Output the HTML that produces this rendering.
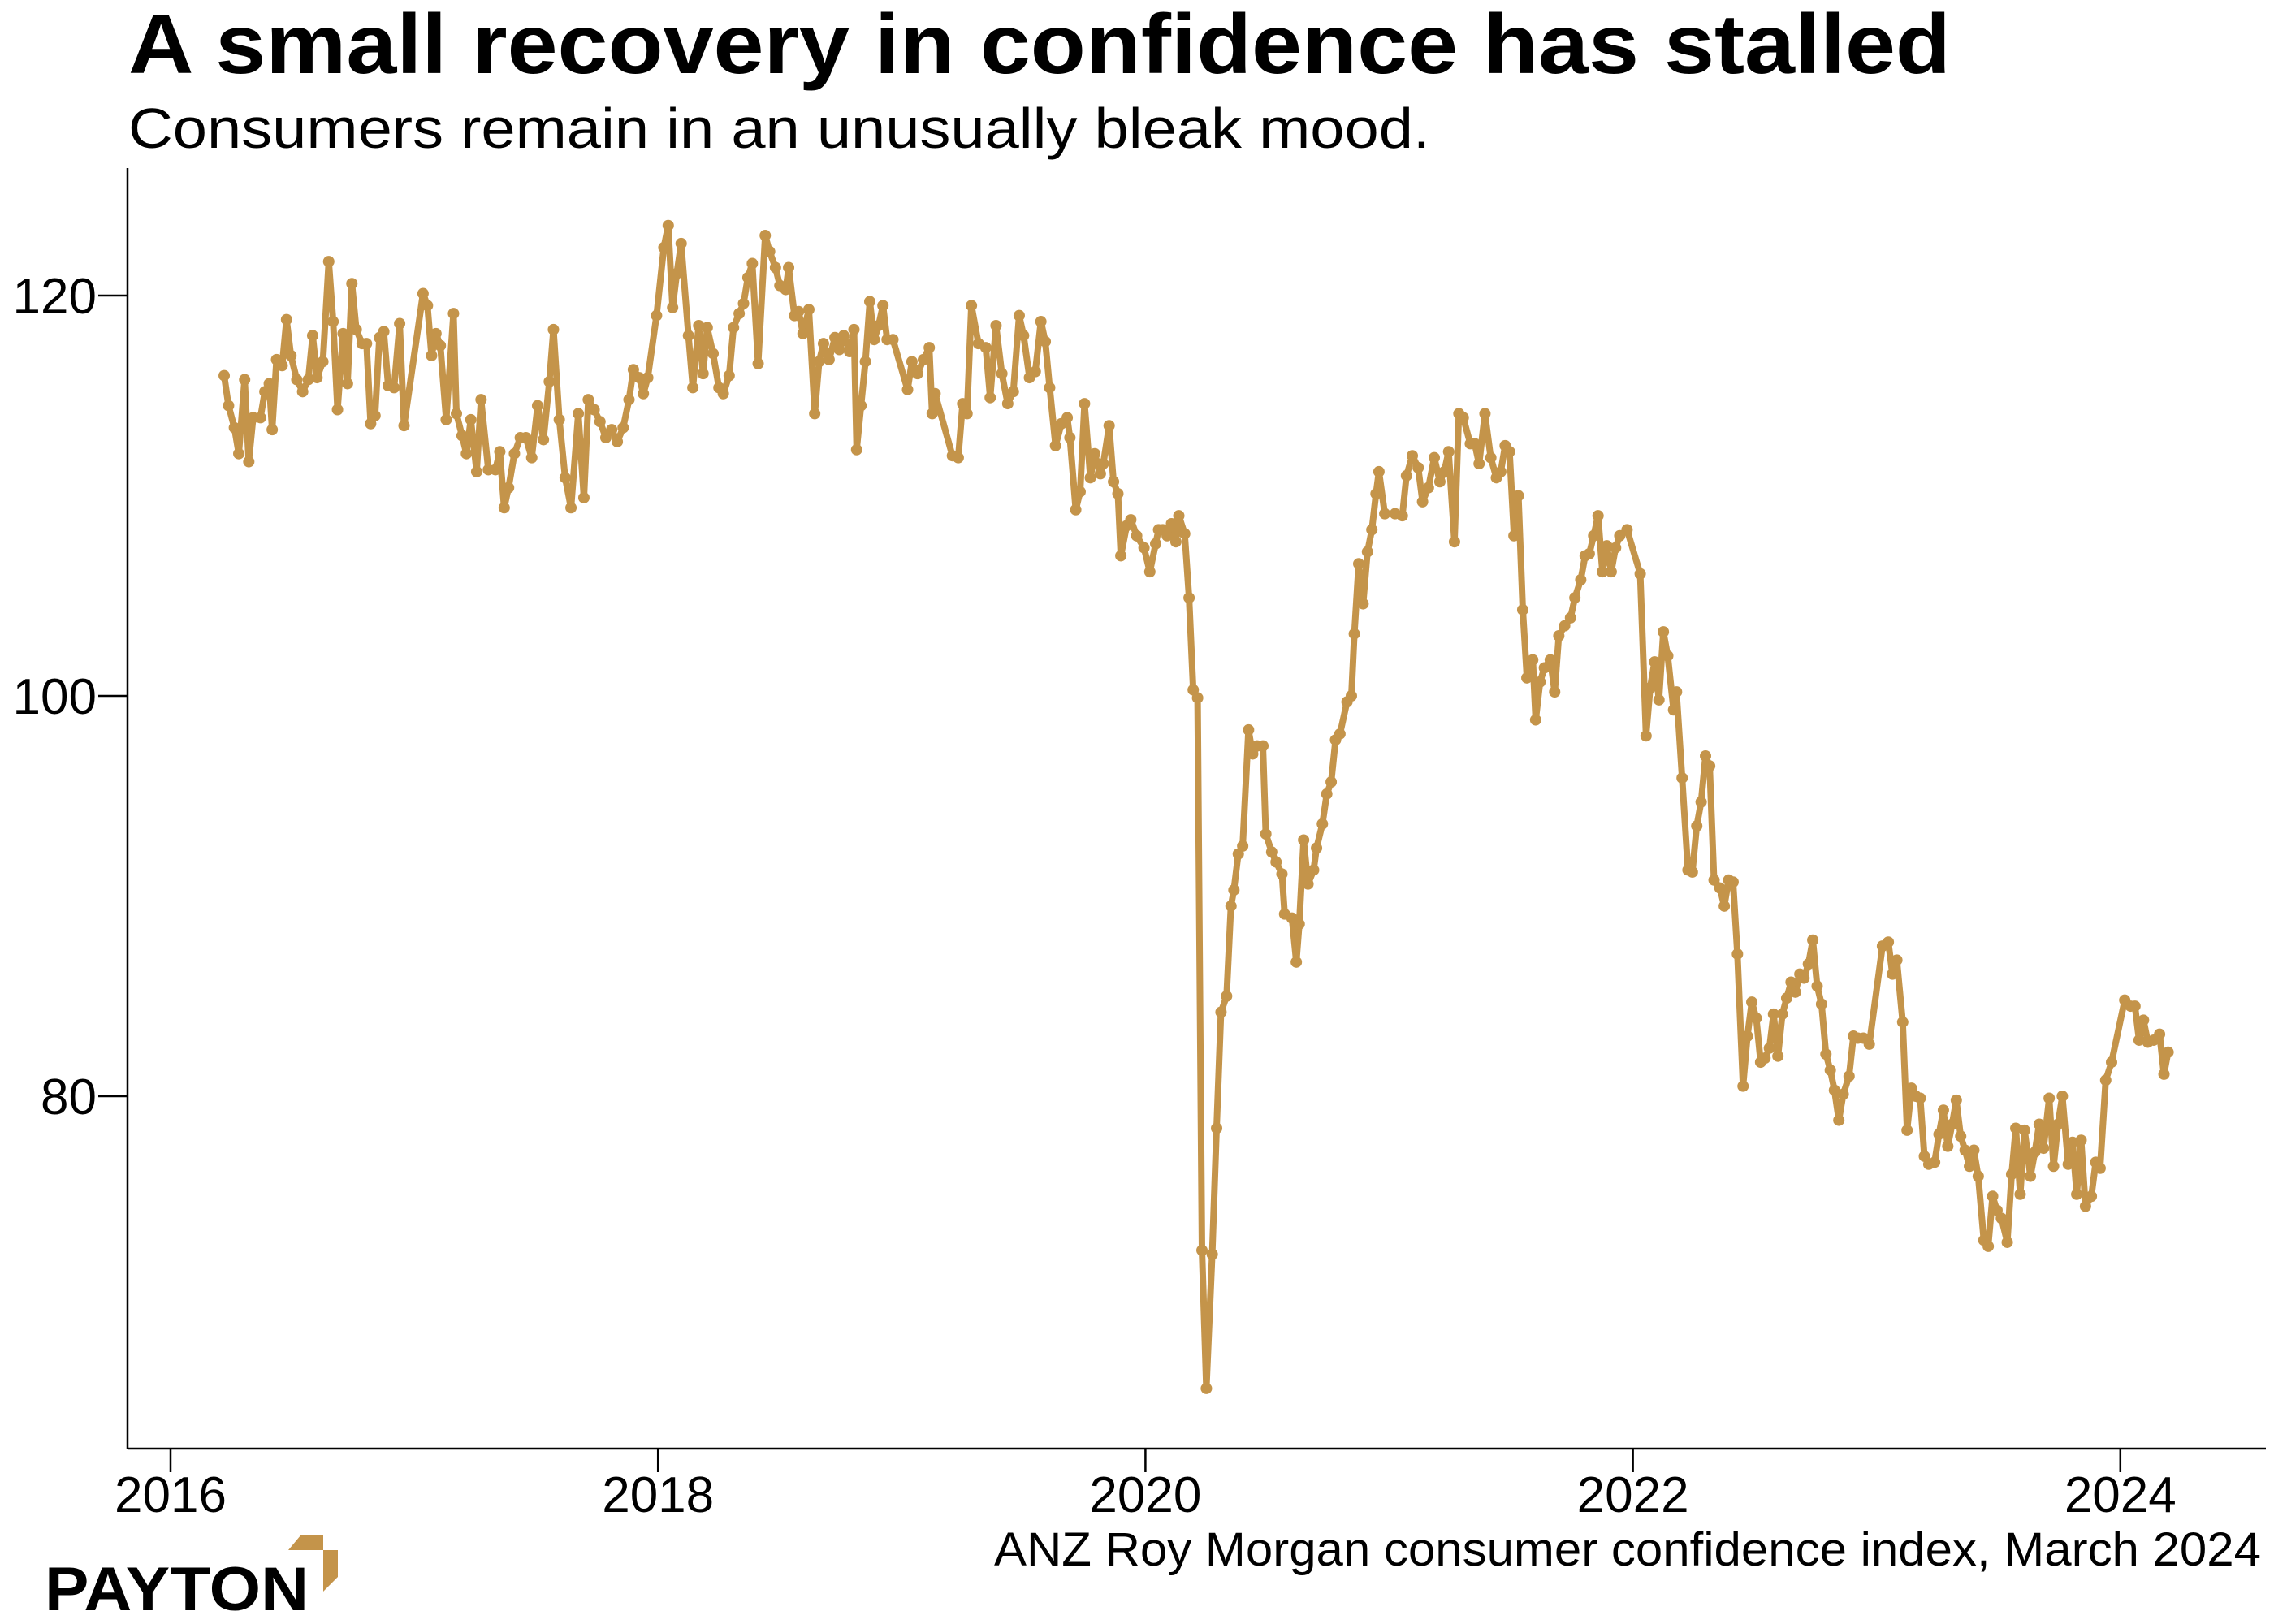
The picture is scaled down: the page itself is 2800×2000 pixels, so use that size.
<!DOCTYPE html>
<html><head><meta charset="utf-8"><style>
html,body{margin:0;padding:0;background:#fff;}
svg{display:block;font-family:"Liberation Sans",sans-serif;}
</style></head><body>
<svg id="chart" width="2800" height="2000" viewBox="0 0 2800 2000" xmlns="http://www.w3.org/2000/svg">
<text x="158" y="90" font-size="104" font-weight="bold" textLength="2244" lengthAdjust="spacingAndGlyphs">A small recovery in confidence has stalled</text>
<text x="158" y="182" font-size="70" textLength="1603" lengthAdjust="spacingAndGlyphs">Consumers remain in an unusually bleak mood.</text>
<line x1="157" y1="207" x2="157" y2="1784" stroke="#000" stroke-width="2.5"/>
<line x1="157" y1="1784" x2="2790" y2="1784" stroke="#000" stroke-width="2.5"/>
<g id="yticks"></g><g id="xticks"></g>
<g id="series"></g>
<text x="2784" y="1928" font-size="58" text-anchor="end" textLength="1560" lengthAdjust="spacingAndGlyphs">ANZ Roy Morgan consumer confidence index, March 2024</text>
<g>
<text x="55" y="1983" font-size="76" font-weight="bold" textLength="325" lengthAdjust="spacingAndGlyphs">PAYTON</text>
<polygon points="370,1891 398,1891 398,1909 416,1909 416,1942 398,1960 398,1909 355,1909" fill="#C4944A"/>
</g>
</svg>
<script>
const yTicks = [80, 100, 120];
const xTicks = [2016, 2018, 2020, 2022, 2024];
const baseYear = 2016;
const yearOffsets = [0.220,0.238,0.262,0.280,0.304,0.321,0.339,0.369,0.387,0.405,0.417,0.435,0.458,0.476,0.494,0.518,0.542,0.565,0.583,0.601,0.625,0.649,0.667,0.685,0.708,0.726,0.744,0.762,0.786,0.804,0.821,0.839,0.857,0.875,0.893,0.917,0.940,0.958,1.036,1.054,1.071,1.089,1.107,1.131,1.161,1.173,1.196,1.214,1.232,1.256,1.274,1.304,1.333,1.351,1.369,1.387,1.411,1.435,1.458,1.482,1.506,1.530,1.554,1.571,1.595,1.619,1.643,1.673,1.696,1.714,1.738,1.762,1.786,1.810,1.833,1.857,1.881,1.899,1.923,1.940,1.958,1.994,2.024,2.042,2.060,2.077,2.095,2.125,2.143,2.167,2.185,2.202,2.226,2.250,2.268,2.292,2.310,2.333,2.351,2.369,2.387,2.411,2.440,2.458,2.482,2.500,2.524,2.536,2.560,2.577,2.595,2.619,2.643,2.661,2.679,2.702,2.726,2.744,2.762,2.786,2.804,2.815,2.833,2.851,2.869,2.887,2.905,2.923,2.940,2.964,3.024,3.042,3.065,3.089,3.113,3.125,3.137,3.208,3.232,3.250,3.268,3.286,3.315,3.345,3.363,3.387,3.411,3.435,3.458,3.482,3.500,3.524,3.548,3.571,3.589,3.607,3.631,3.655,3.679,3.690,3.714,3.732,3.750,3.774,3.792,3.815,3.827,3.851,3.869,3.887,3.899,3.923,3.940,3.964,3.994,4.018,4.042,4.054,4.071,4.089,4.107,4.125,4.137,4.161,4.179,4.196,4.214,4.232,4.250,4.274,4.292,4.310,4.333,4.351,4.363,4.381,4.399,4.423,4.440,4.458,4.482,4.494,4.518,4.536,4.560,4.571,4.601,4.619,4.631,4.649,4.667,4.690,4.702,4.726,4.744,4.762,4.780,4.798,4.827,4.845,4.857,4.875,4.893,4.911,4.929,4.946,4.958,4.982,5.024,5.054,5.071,5.095,5.119,5.137,5.161,5.185,5.208,5.226,5.244,5.268,5.286,5.304,5.333,5.351,5.369,5.393,5.417,5.440,5.458,5.476,5.494,5.512,5.530,5.548,5.565,5.589,5.601,5.619,5.637,5.661,5.679,5.696,5.720,5.744,5.762,5.786,5.804,5.821,5.839,5.857,5.875,5.893,5.911,5.929,5.946,5.976,6.030,6.054,6.071,6.089,6.107,6.125,6.143,6.167,6.179,6.202,6.226,6.244,6.262,6.280,6.298,6.315,6.333,6.357,6.375,6.393,6.411,6.429,6.452,6.470,6.488,6.506,6.524,6.542,6.560,6.577,6.595,6.613,6.631,6.649,6.667,6.685,6.702,6.720,6.738,6.756,6.774,6.792,6.810,6.827,6.845,6.863,6.887,6.905,6.923,6.946,6.970,7.024,7.048,7.065,7.083,7.107,7.125,7.143,7.161,7.179,7.196,7.214,7.238,7.256,7.274,7.292,7.310,7.327,7.345,7.363,7.381,7.399,7.417,7.440,7.458,7.476,7.494,7.512,7.536,7.554,7.571,7.589,7.607,7.631,7.649,7.667,7.685,7.708,7.726,7.744,7.762,7.786,7.804,7.821,7.839,7.857,7.881,7.899,7.917,7.940,7.964,8.018,8.042,8.060,8.077,8.095,8.113,8.137,8.161,8.179,8.196];
const confidence = [116.0,114.5,113.4,112.1,115.8,111.7,113.9,113.9,115.2,115.6,113.3,116.8,116.5,118.8,117.0,115.8,115.2,115.8,118.0,115.9,116.7,121.7,118.7,114.3,118.1,115.6,120.6,118.3,117.6,117.6,113.6,114.0,117.9,118.2,115.5,115.4,118.6,113.5,120.1,119.5,117.0,118.1,117.5,113.8,119.1,114.1,113.0,112.1,113.8,111.2,114.8,111.3,111.3,112.2,109.4,110.4,112.1,112.9,112.9,111.9,114.5,112.8,115.7,118.3,113.8,110.9,109.4,114.1,109.9,114.8,114.3,113.7,112.9,113.3,112.7,113.4,114.8,116.3,115.9,115.1,115.9,119.0,122.4,123.5,119.4,121.1,122.6,118.0,115.4,118.5,116.1,118.4,117.1,115.4,115.1,116.0,118.4,119.1,119.6,120.9,121.6,116.6,123.0,122.2,121.4,120.5,120.3,121.4,119.0,119.2,118.1,119.3,114.1,116.7,117.6,116.8,117.9,117.3,118.0,117.2,118.3,112.3,114.5,116.7,119.7,117.8,118.5,119.5,117.8,117.8,115.3,116.7,116.1,116.8,117.4,114.1,115.1,112.0,111.9,114.6,114.1,119.5,117.6,117.4,114.9,118.5,116.1,114.6,115.2,119.0,118.0,115.9,116.2,118.7,117.7,115.4,112.5,113.6,113.9,112.9,109.3,110.2,114.6,110.9,112.1,111.1,111.6,113.5,110.7,110.1,107.0,108.5,108.8,108.0,107.4,106.2,107.6,108.3,108.3,108.0,108.6,107.7,109.0,108.1,104.9,100.3,99.9,72.3,65.4,72.1,78.4,84.2,85.0,89.5,90.3,92.1,92.5,98.3,97.1,97.5,97.5,93.1,92.2,91.7,91.1,89.1,88.9,86.7,88.6,92.8,90.6,91.3,92.4,93.6,95.1,95.7,97.8,98.1,99.7,100.0,103.1,106.6,104.6,107.2,108.3,110.1,111.2,109.1,109.1,109.0,111.0,112.0,111.4,109.7,110.4,111.9,110.7,111.2,112.2,107.7,114.1,113.9,112.6,112.6,111.6,114.1,111.9,110.9,111.2,112.5,112.2,108.0,110.0,104.3,100.9,101.8,98.8,100.7,101.4,101.8,100.2,103.0,103.5,103.9,104.9,105.8,107.0,107.1,108.0,109.0,106.2,107.5,106.2,107.4,108.0,108.3,106.1,98.0,100.4,101.7,99.8,103.2,102.0,99.3,100.2,95.9,91.3,91.2,93.5,94.7,97.0,96.5,90.8,90.4,89.5,90.8,90.7,87.1,80.5,83.0,84.7,83.9,81.7,81.9,82.4,84.1,82.0,84.1,84.9,85.7,85.2,86.1,85.9,86.6,87.8,85.5,84.6,82.1,81.3,80.3,78.8,80.1,81.0,83.0,82.9,82.9,82.6,87.5,87.7,86.1,86.8,83.7,78.3,80.4,80.0,79.9,77.0,76.6,76.7,78.1,79.3,77.5,78.6,79.8,78.0,77.3,76.5,77.3,76.0,72.8,72.5,75.0,74.3,73.9,72.7,76.1,78.4,75.1,78.3,76.0,77.2,78.6,77.4,79.9,76.5,78.6,80.0,76.6,77.7,75.1,77.8,74.5,75.0,76.7,76.4,80.8,81.7,84.8,84.5,84.5,82.8,83.8,82.7,82.8,83.1,81.1,82.2];

const NS = "http://www.w3.org/2000/svg";
function xScale(year){ return 210 + (year - 2016) * 300.1; }
function yScale(v){ return 857 - (v - 100) * 24.65; }

const yg = document.getElementById('yticks');
yTicks.forEach(t => {
  const y = yScale(t);
  const l = document.createElementNS(NS,'line');
  l.setAttribute('x1',121); l.setAttribute('x2',157); l.setAttribute('y1',y); l.setAttribute('y2',y);
  l.setAttribute('stroke','#000'); l.setAttribute('stroke-width','2.5');
  
  
  yg.appendChild(l);
  const tx = document.createElementNS(NS,'text');
  tx.setAttribute('x',119); tx.setAttribute('y',y+22); tx.setAttribute('font-size','62');
  tx.setAttribute('text-anchor','end');
  tx.textContent = t;
  
  
  yg.appendChild(tx);
});
const xg = document.getElementById('xticks');
xTicks.forEach(t => {
  const x = xScale(t);
  const l = document.createElementNS(NS,'line');
  l.setAttribute('x1',x); l.setAttribute('x2',x); l.setAttribute('y1',1784); l.setAttribute('y2',1813);
  l.setAttribute('stroke','#000'); l.setAttribute('stroke-width','2.5');
  
  
  xg.appendChild(l);
  const tx = document.createElementNS(NS,'text');
  tx.setAttribute('x',x); tx.setAttribute('y',1862); tx.setAttribute('font-size','62');
  tx.setAttribute('text-anchor','middle');
  tx.textContent = t;
  
  
  xg.appendChild(tx);
});

const sg = document.getElementById('series');
const pts = confidence.map((v,i) => [xScale(baseYear + yearOffsets[i]), yScale(v)]);
const path = document.createElementNS(NS,'polyline');
path.setAttribute('points', pts.map(p => p[0].toFixed(1)+','+p[1].toFixed(1)).join(' '));
path.setAttribute('fill','none'); path.setAttribute('stroke','#C4944A');
path.setAttribute('stroke-width','8'); path.setAttribute('stroke-linejoin','round');


sg.appendChild(path);
pts.forEach((p,i) => {
  const c = document.createElementNS(NS,'circle');
  c.setAttribute('cx',p[0]); c.setAttribute('cy',p[1]); c.setAttribute('r',7);
  c.setAttribute('fill','#C4944A');
  
  
  sg.appendChild(c);
});
</script>
</body></html>
